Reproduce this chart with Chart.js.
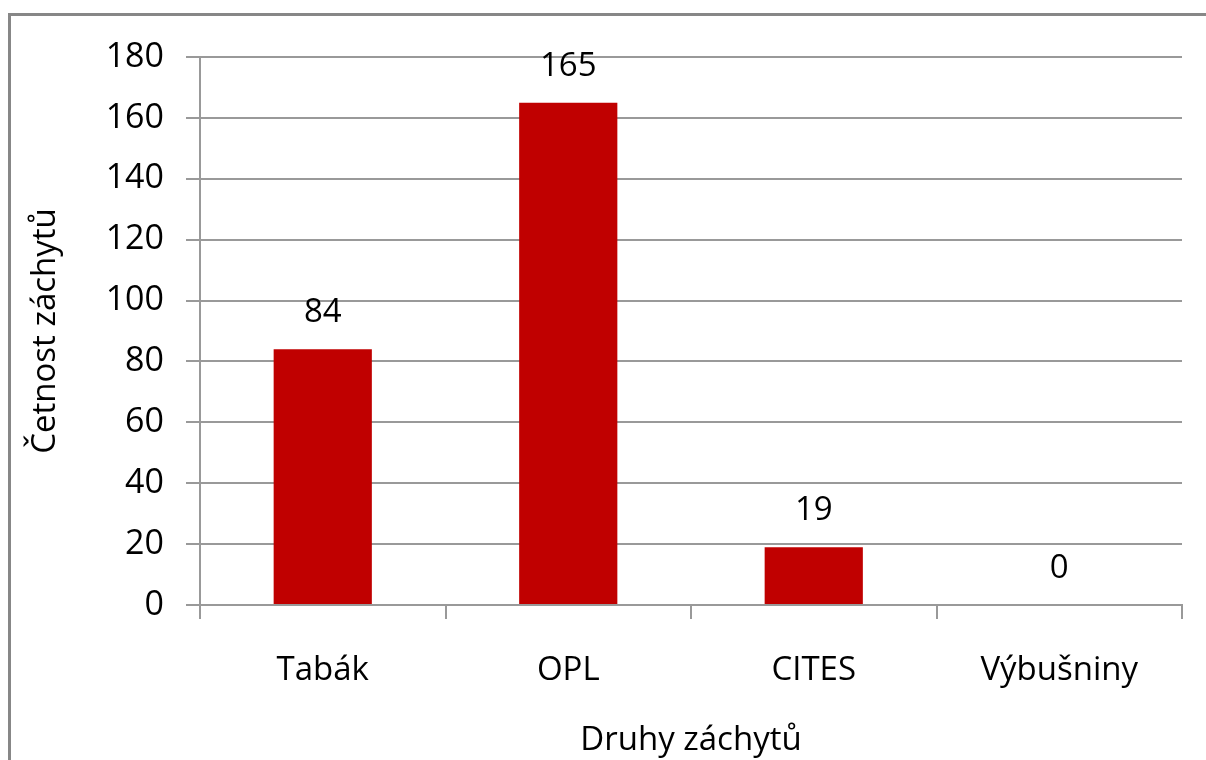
<!DOCTYPE html>
<html>
<head>
<meta charset="utf-8">
<script src="https://cdn.jsdelivr.net/npm/chart.js@4/dist/chart.umd.min.js"></script>
<style>
  html, body { margin: 0; padding: 0; background: #fff; overflow: hidden; }
  #wrap { position: relative; width: 1206px; height: 760px; }
  #frame { position: absolute; left: 8px; top: 13px; width: 1300px; height: 900px; border: 3px solid #878787; box-sizing: border-box; }
  canvas { position: absolute; left: 0; top: 0; }
</style>
</head>
<body>
<div id="wrap">
  <div id="frame"></div>
  <canvas id="c" width="1206" height="760"></canvas>
</div>
<script>
const categories = ["Tabák", "OPL", "CITES", "Výbušniny"];
const values = [84, 165, 19, 0];
const yTicks = [0, 20, 40, 60, 80, 100, 120, 140, 160, 180];
const yTitle = "Četnost záchytů";
const xTitle = "Druhy záchytů";

const FONT = "'Open Sans', sans-serif";
const SIZE = 33;

const valueLabels = {
  id: 'valueLabels',
  afterDatasetsDraw(chart) {
    const ctx = chart.ctx;
    const meta = chart.getDatasetMeta(0);
    ctx.save();
    ctx.font = SIZE + "px " + FONT;
    ctx.fillStyle = "#000";
    ctx.textAlign = "center";
    ctx.textBaseline = "bottom";
    meta.data.forEach((bar, i) => {
      ctx.fillText(String(values[i]), bar.x, bar.y - 20);
    });
    ctx.restore();
  }
};

new Chart(document.getElementById('c'), {
  type: 'bar',
  data: {
    labels: categories,
    datasets: [{
      data: values,
      backgroundColor: '#C00000',
      borderWidth: 0,
      barPercentage: 0.4,
      categoryPercentage: 1.0
    }]
  },
  options: {
    responsive: false,
    animation: false,
    events: [],
    layout: { autoPadding: false, padding: { top: 57, right: 24, left: 0, bottom: 0 } },
    plugins: { legend: { display: false }, tooltip: { enabled: false } },
    scales: {
      x: {
        afterFit(scale) { scale.height = 155; },
        grid: { display: true, drawOnChartArea: false, drawTicks: true, tickLength: 14, color: '#999', lineWidth: 2, offset: true },
        border: { display: true, color: '#999', width: 2 },
        ticks: { color: '#000', font: { family: FONT, size: SIZE }, padding: 32 },
        title: { display: true, text: xTitle, color: '#000', font: { family: FONT, size: SIZE }, padding: { top: 4, bottom: 0 } }
      },
      y: {
        min: 0, max: 180,
        afterFit(scale) { scale.width = 200; },
        afterBuildTicks(scale) { scale.ticks = yTicks.map(v => ({ value: v })); },
        grid: { color: '#999', lineWidth: 2, tickLength: 14 },
        border: { display: true, color: '#999', width: 2 },
        ticks: { color: '#000', font: { family: FONT, size: 34 }, padding: 22 },
        title: { display: true, text: yTitle, color: '#000', font: { family: FONT, size: SIZE }, padding: { top: 26, bottom: 0 } }
      }
    }
  },
  plugins: [valueLabels]
});
</script>
</body>
</html>
